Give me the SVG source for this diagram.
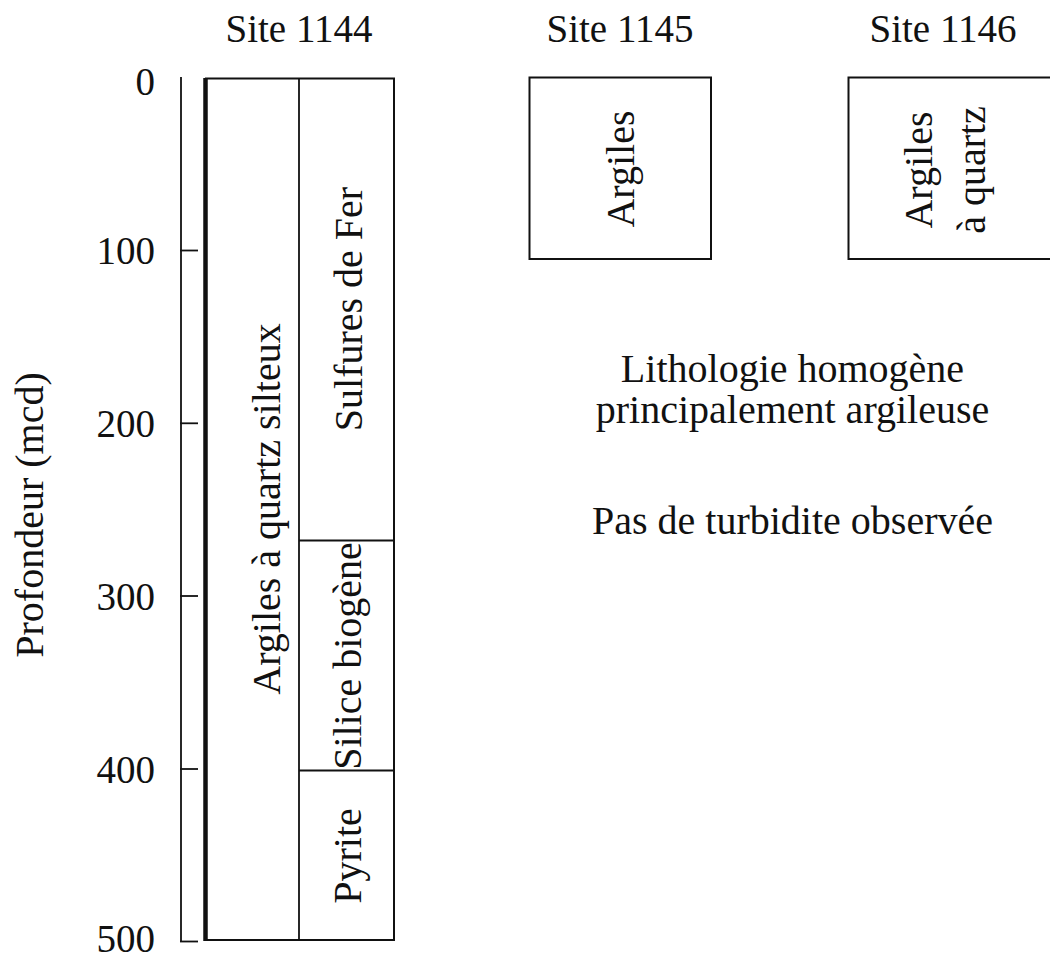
<svg xmlns="http://www.w3.org/2000/svg" width="1050" height="958" viewBox="0 0 1050 958">
  <style>
    text { font-family: "Liberation Serif", "Times New Roman", serif; fill: #111; }
    .t { font-size: 39px; text-anchor: middle; }
    .lbl { font-size: 40px; text-anchor: middle; }
    .ax { font-size: 39px; text-anchor: end; }
    .box { fill: none; stroke: #111; stroke-width: 2; }
    .ln { stroke: #111; stroke-width: 1.8; fill: none; }
  </style>
  <rect width="1050" height="958" fill="#ffffff"/>

  <g id="titles">
    <text class="t" x="299" y="42">Site 1144</text>
    <text class="t" x="620" y="42">Site 1145</text>
    <text class="t" x="943" y="42">Site 1146</text>
  </g>

  <g id="axis">
    <line class="ln" x1="181" y1="77" x2="181" y2="942"/>
    <line class="ln" x1="180" y1="250.5" x2="198" y2="250.5"/>
    <line class="ln" x1="180" y1="423.3" x2="198" y2="423.3"/>
    <line class="ln" x1="180" y1="596" x2="198" y2="596"/>
    <line class="ln" x1="180" y1="769" x2="198" y2="769"/>
    <line class="ln" x1="180" y1="941.5" x2="198" y2="941.5"/>
    <text class="ax" x="155" y="95">0</text>
    <text class="ax" x="155" y="264">100</text>
    <text class="ax" x="155" y="437">200</text>
    <text class="ax" x="155" y="610">300</text>
    <text class="ax" x="155" y="783">400</text>
    <text class="ax" x="155" y="952">500</text>
    <text class="lbl" transform="translate(43,515) rotate(-90)">Profondeur (mcd)</text>
  </g>

  <g id="site1144">
    <rect class="box" x="206" y="78.5" width="188" height="861.5"/>
    <line x1="205.5" y1="78" x2="205.5" y2="941" stroke="#111" stroke-width="4.5"/>
    <line class="ln" x1="299" y1="78.5" x2="299" y2="940"/>
    <line class="ln" x1="299" y1="540.5" x2="394" y2="540.5"/>
    <line class="ln" x1="299" y1="770.5" x2="394" y2="770.5"/>
    <text class="lbl" transform="translate(280,509) rotate(-90)">Argiles à quartz silteux</text>
    <text class="lbl" transform="translate(362,309) rotate(-90)">Sulfures de Fer</text>
    <text class="lbl" transform="translate(361,656) rotate(-90)">Silice biogène</text>
    <text class="lbl" transform="translate(361,856) rotate(-90)">Pyrite</text>
  </g>

  <g id="site1145">
    <rect class="box" x="529.5" y="77.5" width="181.5" height="181.5"/>
    <text class="lbl" transform="translate(634,169) rotate(-90)">Argiles</text>
  </g>

  <g id="site1146">
    <rect class="box" x="848.5" y="77.5" width="220" height="181.5"/>
    <text class="lbl" transform="translate(932,170) rotate(-90)">Argiles</text>
    <text class="lbl" transform="translate(985,170) rotate(-90)">à quartz</text>
  </g>

  <g id="notes">
    <text class="lbl" x="792.5" y="382" font-size="41">Lithologie homogène</text>
    <text class="lbl" x="792.5" y="423" font-size="41">principalement argileuse</text>
    <text class="lbl" x="792.5" y="534" font-size="41">Pas de turbidite observée</text>
  </g>

  <g id="connectors"></g>
</svg>
